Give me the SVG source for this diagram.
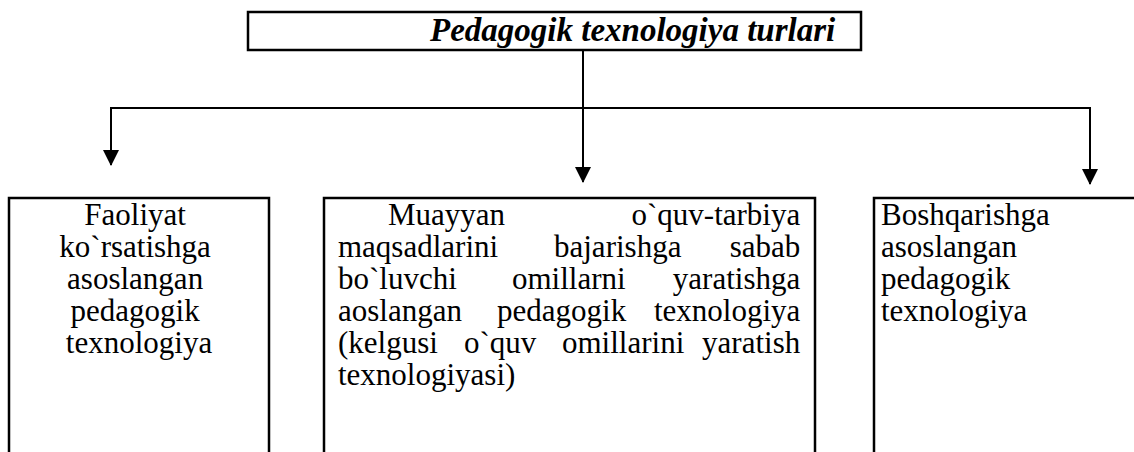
<svg xmlns="http://www.w3.org/2000/svg" width="1134" height="452" viewBox="0 0 1134 452">
<style>
.box{fill:#fff;stroke:#000;stroke-width:2.5}
.t{font-family:'Liberation Serif','Times New Roman','DejaVu Serif',serif;font-size:31px;fill:#000}
.title{font-family:'Liberation Serif','Times New Roman','DejaVu Serif',serif;font-size:33px;font-weight:bold;font-style:italic;fill:#000}
.ln{fill:none;stroke:#000;stroke-width:2}
</style>
<defs>
<marker id="ah" markerWidth="16" markerHeight="16" viewBox="0 0 16 16" refX="15" refY="8" orient="auto" markerUnits="userSpaceOnUse">
<path d="M0,0 L16,8 L0,16 Z" fill="#000"/>
</marker>
</defs>
<g id="title">
<rect class="box" x="248" y="12" width="613" height="38"/>
<text class="title" font-family="Liberation Serif, serif" x="430" y="41">Pedagogik texnologiya turlari</text>
</g>
<g id="connectors">
<line class="ln" x1="583" y1="50" x2="583" y2="182" marker-end="url(#ah)"/>
<polyline class="ln" points="111,108 1090,108"/>
<line class="ln" x1="111" y1="107" x2="111" y2="165" marker-end="url(#ah)"/>
<line class="ln" x1="1090" y1="107" x2="1090" y2="184" marker-end="url(#ah)"/>
</g>
<g id="node1">
<rect class="box" x="9" y="198" width="260" height="300"/>
<text class="t" font-family="Liberation Serif, serif" text-anchor="middle">
<tspan x="139" y="225">Faoliyat</tspan>
<tspan x="139" y="257">ko`rsatishga</tspan>
<tspan x="139" y="289">asoslangan</tspan>
<tspan x="139" y="321">pedagogik</tspan>
<tspan x="139" y="353">texnologiya</tspan>
</text>
</g>
<g id="node2">
<rect class="box" x="324" y="198" width="491" height="300"/>
<text class="t" font-family="Liberation Serif, serif">
<tspan x="388" y="225">Muayyan</tspan>
<tspan x="808" y="225" text-anchor="end">o`quv-tarbiya</tspan>
<tspan x="338" y="257">maqsadlarini</tspan>
<tspan x="554" y="257">bajarishga</tspan>
<tspan x="808" y="257" text-anchor="end">sabab</tspan>
<tspan x="338" y="289">bo`luvchi</tspan>
<tspan x="512" y="289">omillarni</tspan>
<tspan x="808" y="289" text-anchor="end">yaratishga</tspan>
<tspan x="338" y="321">aoslangan</tspan>
<tspan x="497" y="321">pedagogik</tspan>
<tspan x="808" y="321" text-anchor="end">texnologiya</tspan>
<tspan x="338" y="353">(kelgusi</tspan>
<tspan x="464" y="353">o`quv</tspan>
<tspan x="562" y="353">omillarini</tspan>
<tspan x="808" y="353" text-anchor="end">yaratish</tspan>
<tspan x="338" y="385">texnologiyasi)</tspan>
</text>
</g>
<g id="node3">
<rect class="box" x="874" y="198" width="300" height="300"/>
<text class="t" font-family="Liberation Serif, serif">
<tspan x="881" y="225">Boshqarishga</tspan>
<tspan x="881" y="257">asoslangan</tspan>
<tspan x="881" y="289">pedagogik</tspan>
<tspan x="881" y="321">texnologiya</tspan>
</text>
</g>
</svg>
